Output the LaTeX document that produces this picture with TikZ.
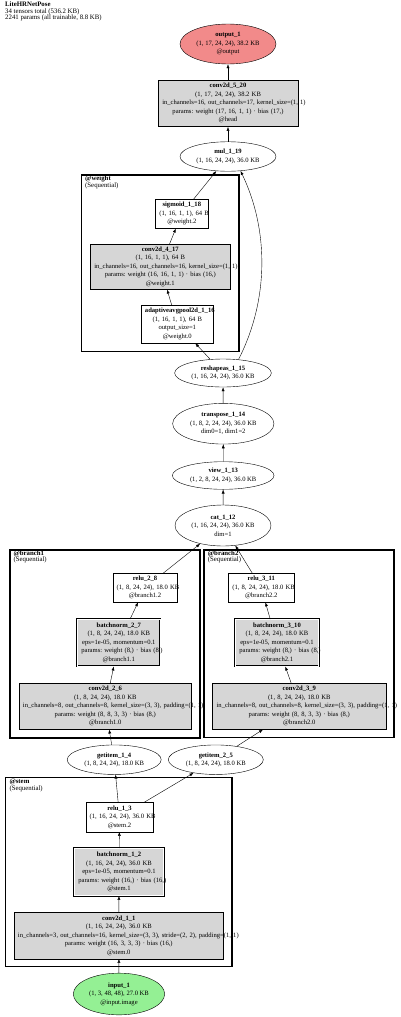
\documentclass[tikz,border=0pt]{standalone}
\usepackage{fontspec}
\setmainfont{Liberation Serif}
\usetikzlibrary{shapes.geometric,arrows.meta}
\definecolor{layergray}{HTML}{D6D6D6}
\definecolor{outcoral}{HTML}{F28A8A}
\definecolor{ingreen}{HTML}{94F094}
\frenchspacing
\tikzset{
  op/.style={ellipse,draw,line width=0.4pt,inner sep=0pt,align=center},
  layer/.style={rectangle,draw,line width=0.4pt,fill=layergray,inner xsep=4pt,inner ysep=0pt,align=center},
  act/.style={layer,fill=white},
  norm/.style={layer,double,double distance=1.2pt},
  group/.style={draw,line width=1.6pt},
  grplabel/.style={anchor=north west,inner sep=0pt,align=left,font=\fontsize{6.8}{6.2}\selectfont},
  flow/.style={-{Latex[length=4pt,width=3pt]},line width=0.4pt}
}

\begin{document}
\begin{tikzpicture}[x=1pt,y=-1pt,font=\fontsize{6.6}{8.5}\selectfont]
  \useasboundingbox (0,0) rectangle (400,1017);
  % title
  \node[grplabel,font=\fontsize{6.8}{6.3}\selectfont] (title) at (5,2)
    {\textbf{LiteHRNetPose}\\34 tensors total (536.2 KB)\\2241 params (all trainable, 8.8 KB)};
  % clusters
  \draw[group] (81.5,175) rectangle (239.2,351.5);
  \node[grplabel] (weightlbl) at (85,175.8) {\textbf{@weight}\\(Sequential)};
  \draw[group] (9.8,549.8) rectangle (200.2,737.9);
  \node[grplabel] (branchAlbl) at (13.3,550.6) {\textbf{@branch1}\\(Sequential)};
  \draw[group] (203.8,549.8) rectangle (394.2,737.5);
  \node[grplabel] (branchBlbl) at (207.7,550.2) {\textbf{@branch2}\\(Sequential)};
  \draw[group] (5.5,777.5) rectangle (231.9,966.5);
  \node[grplabel] (stemlbl) at (9.3,779.2) {\textbf{@stem}\\(Sequential)};
  % head
  \node[op,fill=outcoral,minimum width=96pt,minimum height=40pt] (out) at (228,44)
    {\textbf{output\_1}\\(1, 17, 24, 24), 38.2 KB\\@output};
  \node[layer,text width=131.4pt,minimum height=46.7pt] (conv5) at (228,103.3)
    {\textbf{conv2d\_5\_20}\\\mbox{(1, 17, 24, 24), 38.2 KB}\\\mbox{in\_channels=16, out\_channels=17, kernel\_size=(1, 1)}\\\mbox{params: weight (17, 16, 1, 1) · bias (17,)}\\@head};
  \node[op,minimum width=96pt,minimum height=29.5pt] (mul) at (228,156.5)
    {\textbf{mul\_1\_19}\\(1, 16, 24, 24), 36.0 KB};
  % weight
  \node[act,text width=45pt,minimum height=29pt] (sigm) at (181.8,213.8)
    {\textbf{sigmoid\_1\_18}\\\mbox{(1, 16, 1, 1), 64 B}\\@weight.2};
  \node[layer,text width=132pt,minimum height=45.3pt] (conv4) at (160.3,266.7)
    {\textbf{conv2d\_4\_17}\\\mbox{(1, 16, 1, 1), 64 B}\\\mbox{in\_channels=16, out\_channels=16, kernel\_size=(1, 1)}\\\mbox{params: weight (16, 16, 1, 1) · bias (16,)}\\@weight.1};
  \node[act,text width=64.7pt,minimum height=38pt] (pool) at (177.3,324)
    {\textbf{adaptiveavgpool2d\_1\_16}\\\mbox{(1, 16, 1, 1), 64 B}\\output\_size=1\\@weight.0};
  % trunk
  \node[op,minimum width=96.7pt,minimum height=28pt] (reshape) at (223,373)
    {\textbf{reshapeas\_1\_15}\\(1, 16, 24, 24), 36.0 KB};
  \node[op,minimum width=101.3pt,minimum height=40.7pt] (transp) at (223.3,423.7)
    {\textbf{transpose\_1\_14}\\(1, 8, 2, 24, 24), 36.0 KB\\dim0=1, dim1=2};
  \node[op,minimum width=101.7pt,minimum height=27.6pt] (view) at (223.2,475.5)
    {\textbf{view\_1\_13}\\(1, 2, 8, 24, 24), 36.0 KB};
  \node[op,minimum width=96pt,minimum height=41pt] (cat) at (223,525.5)
    {\textbf{cat\_1\_12}\\(1, 16, 24, 24), 36.0 KB\\dim=1};
  % branch1
  \node[act,text width=56.6pt,minimum height=28.7pt] (reluA) at (145,587.7)
    {\textbf{relu\_2\_8}\\\mbox{(1, 8, 24, 24), 18.0 KB}\\@branch1.2};
  \node[norm,text width=75pt,minimum height=47pt] (bnA) at (118.8,642.8)
    {\textbf{batchnorm\_2\_7}\\\mbox{(1, 8, 24, 24), 18.0 KB}\\\mbox{eps=1e-05, momentum=0.1}\\\mbox{params: weight (8,) · bias (8,)}\\@branch1.1};
  \node[layer,text width=164.7pt,minimum height=46pt] (convA) at (105.3,706.3)
    {\textbf{conv2d\_2\_6}\\\mbox{(1, 8, 24, 24), 18.0 KB}\\\mbox{in\_channels=8, out\_channels=8, kernel\_size=(3, 3), padding=(1, 1)}\\\mbox{params: weight (8, 8, 3, 3) · bias (8,)}\\@branch1.0};
  % branch2
  \node[act,text width=57.7pt,minimum height=28.7pt] (reluB) at (261.2,587.7)
    {\textbf{relu\_3\_11}\\\mbox{(1, 8, 24, 24), 18.0 KB}\\@branch2.2};
  \node[norm,text width=75.4pt,minimum height=47pt] (bnB) at (277,642.8)
    {\textbf{batchnorm\_3\_10}\\\mbox{(1, 8, 24, 24), 18.0 KB}\\\mbox{eps=1e-05, momentum=0.1}\\\mbox{params: weight (8,) · bias (8,)}\\@branch2.1};
  \node[layer,text width=165.3pt,minimum height=46pt] (convB) at (299.3,706.3)
    {\textbf{conv2d\_3\_9}\\\mbox{(1, 8, 24, 24), 18.0 KB}\\\mbox{in\_channels=8, out\_channels=8, kernel\_size=(3, 3), padding=(1, 1)}\\\mbox{params: weight (8, 8, 3, 3) · bias (8,)}\\@branch2.0};
  % split
  \node[op,minimum width=94pt,minimum height=29.5pt] (getA) at (114.2,759.7)
    {\textbf{getitem\_1\_4}\\(1, 8, 24, 24), 18.0 KB};
  \node[op,minimum width=95pt,minimum height=29.5pt] (getB) at (215.8,759.7)
    {\textbf{getitem\_2\_5}\\(1, 8, 24, 24), 18.0 KB};
  % stem
  \node[act,text width=59.6pt,minimum height=29.4pt] (relu1) at (119.5,817)
    {\textbf{relu\_1\_3}\\\mbox{(1, 16, 24, 24), 36.0 KB}\\@stem.2};
  \node[norm,text width=81.4pt,minimum height=47.4pt] (bn1) at (119,872)
    {\textbf{batchnorm\_1\_2}\\\mbox{(1, 16, 24, 24), 36.0 KB}\\\mbox{eps=1e-05, momentum=0.1}\\\mbox{params: weight (16,) · bias (16,)}\\@stem.1};
  \node[layer,text width=201.7pt,minimum height=46.4pt] (conv1) at (118.8,935.5)
    {\textbf{conv2d\_1\_1}\\\mbox{(1, 16, 24, 24), 36.0 KB}\\\mbox{in\_channels=3, out\_channels=16, kernel\_size=(3, 3), stride=(2, 2), padding=(1, 1)}\\\mbox{params: weight (16, 3, 3, 3) · bias (16,)}\\@stem.0};
  \node[op,fill=ingreen,minimum width=91.4pt,minimum height=41.7pt] (input) at (119,994)
    {\textbf{input\_1}\\(1, 3, 48, 48), 27.0 KB\\@input.image};
  % edges
  \draw[flow] (input) -- (conv1);
  \draw[flow] (conv1) -- (bn1);
  \draw[flow] (bn1) -- (relu1);
  \draw[flow] (relu1) -- (getA);
  \draw[flow] (relu1) -- (getB);
  \draw[flow] (getA) -- (convA);
  \draw[flow] (convA) -- (bnA);
  \draw[flow] (bnA) -- (reluA);
  \draw[flow] (reluA) -- (cat);
  \draw[flow] (getB) -- (convB);
  \draw[flow] (convB) -- (bnB);
  \draw[flow] (bnB) -- (reluB);
  \draw[flow] (reluB) -- (cat);
  \draw[flow] (cat) -- (view);
  \draw[flow] (view) -- (transp);
  \draw[flow] (transp) -- (reshape);
  \draw[flow] (reshape) -- (pool);
  \draw[flow] (pool) -- (conv4);
  \draw[flow] (conv4) -- (sigm);
  \draw[flow] (sigm) -- (mul);
  \draw[flow] (reshape.41) .. controls (269,300) and (269,230) .. (mul.-49);
  \draw[flow] (mul) -- (conv5);
  \draw[flow] (conv5) -- (out);
\end{tikzpicture}
\end{document}
